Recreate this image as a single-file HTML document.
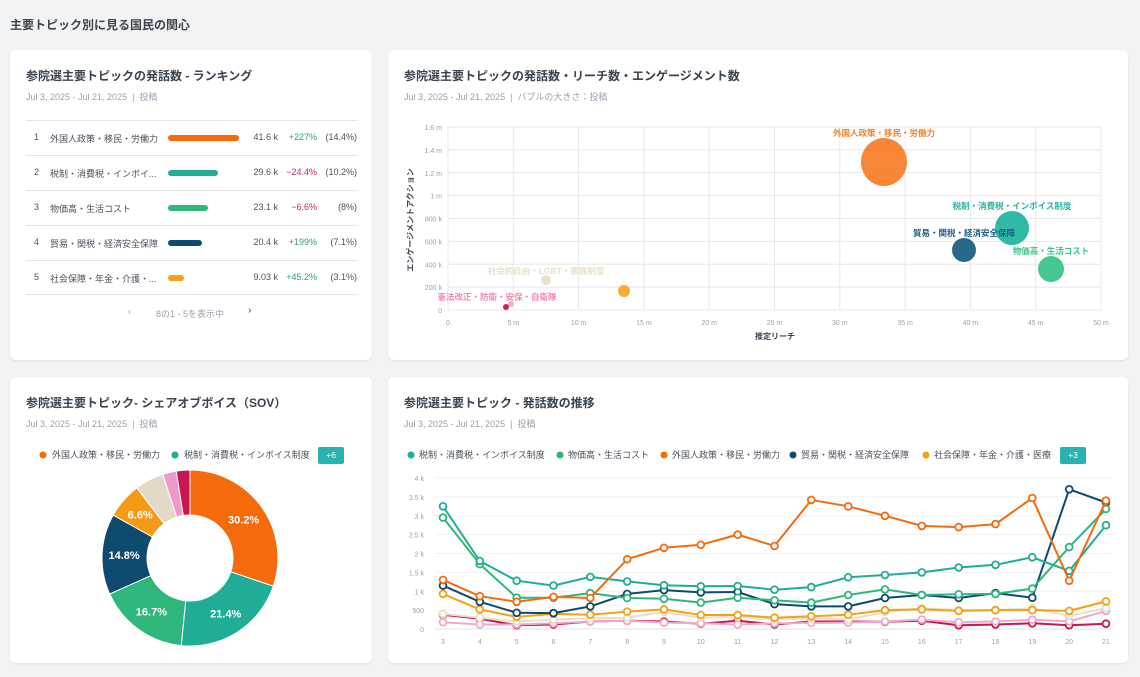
<!DOCTYPE html>
<html><head><meta charset="utf-8">
<style>
*{box-sizing:border-box;margin:0;padding:0}
body{width:1140px;height:677px;background:#f2f3f5;font-family:"Liberation Sans","Noto Sans CJK JP",sans-serif;color:#3b4450;position:relative;overflow:hidden}
.h{position:absolute;left:10px;top:16px;font-size:12px;font-weight:bold;color:#3b4450}
.card{position:absolute;background:#fff;border-radius:6px;box-shadow:0 1px 2px rgba(0,0,0,.08)}
.t{position:absolute;left:16px;top:17px;font-size:12px;font-weight:bold;color:#3b4450}
.s{position:absolute;left:16px;top:40px;font-size:9px;color:#9aa1ab}
.row{position:absolute;left:16px;width:331px;height:35px;border-top:1px solid #e3e5e8;font-size:9px;color:#4a525c}
.row span{position:absolute;top:11px}
.row .v{right:79px}.row .c{right:40px}.row .p{right:0}
.bar{position:absolute;top:14px;height:6px;border-radius:3px}
svg text{font-family:"Liberation Sans","Noto Sans CJK JP",sans-serif}
</style></head><body>
<div class="h">主要トピック別に見る国民の関心</div>

<div class="card" style="left:10px;top:50px;width:362px;height:310px">
<div class="t">参院選主要トピックの発話数 - ランキング</div>
<div class="s">Jul 3, 2025 - Jul 21, 2025 &nbsp;|&nbsp; 投稿</div>
<div class="row" style="top:70px"><span style="left:8px">1</span><span style="left:24px">外国人政策・移民・労働力</span><div class="bar" style="left:142px;width:71px;background:#f46a0d"></div><span class="v">41.6 k</span><span class="c" style="color:#2fa36b">+227%</span><span class="p">(14.4%)</span></div>
<div class="row" style="top:105px"><span style="left:8px">2</span><span style="left:24px">税制・消費税・インボイ...</span><div class="bar" style="left:142px;width:50px;background:#1fae95"></div><span class="v">29.6 k</span><span class="c" style="color:#d0245c">−24.4%</span><span class="p">(10.2%)</span></div>
<div class="row" style="top:140px"><span style="left:8px">3</span><span style="left:24px">物価高・生活コスト</span><div class="bar" style="left:142px;width:40px;background:#2db77a"></div><span class="v">23.1 k</span><span class="c" style="color:#d0245c">−6.6%</span><span class="p">(8%)</span></div>
<div class="row" style="top:175px"><span style="left:8px">4</span><span style="left:24px">貿易・関税・経済安全保障</span><div class="bar" style="left:142px;width:34px;background:#0e4a6e"></div><span class="v">20.4 k</span><span class="c" style="color:#2fa36b">+199%</span><span class="p">(7.1%)</span></div>
<div class="row" style="top:210px;border-bottom:1px solid #e3e5e8"><span style="left:8px">5</span><span style="left:24px">社会保障・年金・介護・...</span><div class="bar" style="left:142px;width:16px;background:#f5a015"></div><span class="v">9.03 k</span><span class="c" style="color:#2fa36b">+45.2%</span><span class="p">(3.1%)</span></div>
<div style="position:absolute;top:256px;left:118px;font-size:9px;color:#9aa1ab">‹</div>
<div style="position:absolute;top:257px;left:146px;font-size:9px;color:#9aa1ab">8の1 - 5を表示中</div>
<div style="position:absolute;top:255px;left:238px;font-size:10px;color:#3b4450">›</div>
</div>

<div class="card" style="left:388px;top:50px;width:740px;height:310px">
<div class="t">参院選主要トピックの発話数・リーチ数・エンゲージメント数</div>
<div class="s">Jul 3, 2025 - Jul 21, 2025 &nbsp;|&nbsp; バブルの大きさ：投稿</div>
</div>

<div class="card" style="left:10px;top:377px;width:362px;height:286px">
<div class="t">参院選主要トピック- シェアオブボイス（SOV）</div>
<div class="s">Jul 3, 2025 - Jul 21, 2025 &nbsp;|&nbsp; 投稿</div>
</div>

<div class="card" style="left:388px;top:377px;width:740px;height:286px">
<div class="t">参院選主要トピック - 発話数の推移</div>
<div class="s">Jul 3, 2025 - Jul 21, 2025 &nbsp;|&nbsp; 投稿</div>
</div>

<svg id="g" width="1140" height="677" style="position:absolute;left:0;top:0"></svg>
<script>
var s='';
function T(x,y,t,o){o=o||{};s+='<text x="'+x+'" y="'+y+'" font-size="'+(o.fs||8)+'" fill="'+(o.c||'#9aa1ab')+'" text-anchor="'+(o.a||'middle')+'"'+(o.w?' font-weight="bold"':'')+(o.tr?' transform="'+o.tr+'"':'')+'>'+t+'</text>';}
var X0=448,X1=1101,Y0=310,Y1=127;
for(var i=0;i<=8;i++){var y=Y0-(Y0-Y1)*i/8;s+='<line x1="'+X0+'" x2="'+X1+'" y1="'+y+'" y2="'+y+'" stroke="#e6e8eb"/>';T(X0-6,y+3,['0','200 k','400 k','600 k','800 k','1 m','1.2 m','1.4 m','1.6 m'][i],{a:'end',fs:7});}
for(var i=0;i<=10;i++){var x=X0+(X1-X0)*i/10;s+='<line x1="'+x+'" x2="'+x+'" y1="'+Y1+'" y2="'+Y0+'" stroke="#e6e8eb"/>';T(x,325,i==0?'0':(i*5)+' m',{fs:7});}
T(775,339,'推定リーチ',{c:'#3b4450',fs:8,w:1});
T(0,0,'エンゲージメントアクション',{c:'#3b4450',fs:8,w:1,tr:'translate(413,220) rotate(-90)'});
var B=[[884,162,24,23,'#f7802a','外国人政策・移民・労働力',884,133,'#f7802a'],[1012,228,17,17,'#25b5a0','税制・消費税・インボイス制度',1012,206,'#25b5a0'],[964,250,12,12,'#1e5f85','貿易・関税・経済安全保障',964,233,'#1e5f85'],[1051,269,13,13,'#3cc38a','物価高・生活コスト',1051,251,'#3cc38a'],[624,291,6,6,'#f5a623'],[546,280,5,5,'#e8dfc8','社会的自由・LGBT・家族制度',546,271,'#e8dfc8'],[511,304,3,3,'#f2a8cc','憲法改正・防衛・安保・自衛隊',497,297,'#ee8ab8'],[506,307,3,3,'#c8174f']];
B.forEach(function(b){s+='<ellipse cx="'+b[0]+'" cy="'+b[1]+'" rx="'+b[3]+'" ry="'+b[2]+'" fill="'+b[4]+'" opacity="0.95"/>';if(b[5])T(b[6],b[7]+3,b[5],{c:b[8],fs:8.5,w:1});});
var cx=190,cy=558,R=88,r=43,a=0;
[[30.2,'#f46a0d'],[21.4,'#1fae95'],[16.7,'#2db77a'],[14.8,'#0e4a6e'],[6.6,'#f59a16'],[5.3,'#e2dac6'],[2.5,'#ec9bc8'],[2.5,'#c8174f']].forEach(function(p,i){
var a2=a+p[0]/100*2*Math.PI;function P(rr,aa){return (cx+rr*Math.sin(aa)).toFixed(1)+','+(cy-rr*Math.cos(aa)).toFixed(1);}
var l=(a2-a)>Math.PI?1:0;
s+='<path d="M'+P(R,a)+' A'+R+','+R+' 0 '+l+' 1 '+P(R,a2)+' L'+P(r,a2)+' A'+r+','+r+' 0 '+l+' 0 '+P(r,a)+'Z" fill="'+p[1]+'" stroke="#fff" stroke-width="1"/>';
if(i<5){var m=(a+a2)/2,rr=66;T((cx+rr*Math.sin(m)).toFixed(1),(cy-rr*Math.cos(m)+4).toFixed(1),p[0]+'%',{c:'#fff',fs:11,w:1});}
a=a2;});
s+='<circle cx="43" cy="455" r="3.5" fill="#f46a0d"/>';T(52,458,'外国人政策・移民・労働力',{a:'start',c:'#4a525c',fs:9});
s+='<circle cx="175" cy="455" r="3.5" fill="#1fae95"/>';T(184,458,'税制・消費税・インボイス制度',{a:'start',c:'#4a525c',fs:9});
s+='<rect x="318" y="447" width="26" height="17" rx="2" fill="#27b4b0"/>';T(331,458,'+6',{c:'#fff',fs:8.5});
var L=[['#1fae95','税制・消費税・インボイス制度',411],['#2db77a','物価高・生活コスト',560],['#f46a0d','外国人政策・移民・労働力',664],['#0e4a6e','貿易・関税・経済安全保障',793],['#f5a015','社会保障・年金・介護・医療',926]];
L.forEach(function(l){s+='<circle cx="'+l[2]+'" cy="455" r="3.5" fill="'+l[0]+'"/>';T(l[2]+8,458,l[1],{a:'start',c:'#4a525c',fs:9});});
s+='<rect x="1060" y="447" width="26" height="17" rx="2" fill="#27b4b0"/>';T(1073,458,'+3',{c:'#fff',fs:8.5});
var lx0=443,lx1=1106,ly0=629,ly4=478;
function LX(i){return lx0+(lx1-lx0)*i/18;}function LY(v){return ly0-(ly0-ly4)*v/4;}
for(var i=0;i<=8;i++){var y=LY(i/2);s+='<line x1="'+(lx0-8)+'" x2="'+(lx1+6)+'" y1="'+y+'" y2="'+y+'" stroke="'+(i==0?'#dfe2e6':'#f0f1f3')+'"/>';T(424,y+3,['0','500','1 k','1.5 k','2 k','2.5 k','3 k','3.5 k','4 k'][i],{a:'end',fs:7});}
for(var i=0;i<=18;i++)T(LX(i),644,i+3,{fs:7});
var D=[
['#c8174f',[.38,.27,.1,.12,.2,.22,.2,.14,.22,.12,.2,.2,.19,.22,.1,.12,.15,.1,.14]],
['#f2a8cc',[.18,.12,.12,.15,.2,.22,.17,.15,.12,.15,.16,.17,.2,.25,.18,.2,.25,.2,.48]],
['#e8dfc8',[.4,.3,.2,.25,.28,.3,.45,.3,.33,.25,.28,.25,.45,.55,.5,.5,.55,.35,.55]],
['#f5a015',[.93,.52,.32,.4,.38,.46,.52,.37,.37,.3,.34,.38,.5,.52,.48,.5,.5,.48,.73]],
['#0e4a6e',[1.15,.72,.43,.42,.6,.93,1.03,.97,.98,.66,.6,.6,.82,.9,.82,.95,.83,3.7,3.35]],
['#2db77a',[2.95,1.72,.83,.83,.95,.82,.8,.7,.83,.76,.7,.9,1.05,.9,.92,.93,1.07,2.17,3.18]],
['#1fae95',[3.25,1.8,1.28,1.15,1.38,1.26,1.16,1.13,1.14,1.04,1.11,1.37,1.43,1.5,1.63,1.7,1.9,1.54,2.75]],
['#f46a0d',[1.3,.87,.72,.85,.82,1.85,2.15,2.23,2.5,2.2,3.42,3.25,3.0,2.73,2.7,2.78,3.47,1.28,3.4]]];
D.forEach(function(d){var pts=d[1].map(function(v,i){return LX(i).toFixed(1)+','+LY(v).toFixed(1)}).join(' ');
s+='<polyline points="'+pts+'" fill="none" stroke="'+d[0]+'" stroke-width="2"/>';
d[1].forEach(function(v,i){s+='<circle cx="'+LX(i).toFixed(1)+'" cy="'+LY(v).toFixed(1)+'" r="3.4" fill="#fff" stroke="'+d[0]+'" stroke-width="1.8"/>';});});
document.getElementById('g').innerHTML=s;
</script>
</body></html>
